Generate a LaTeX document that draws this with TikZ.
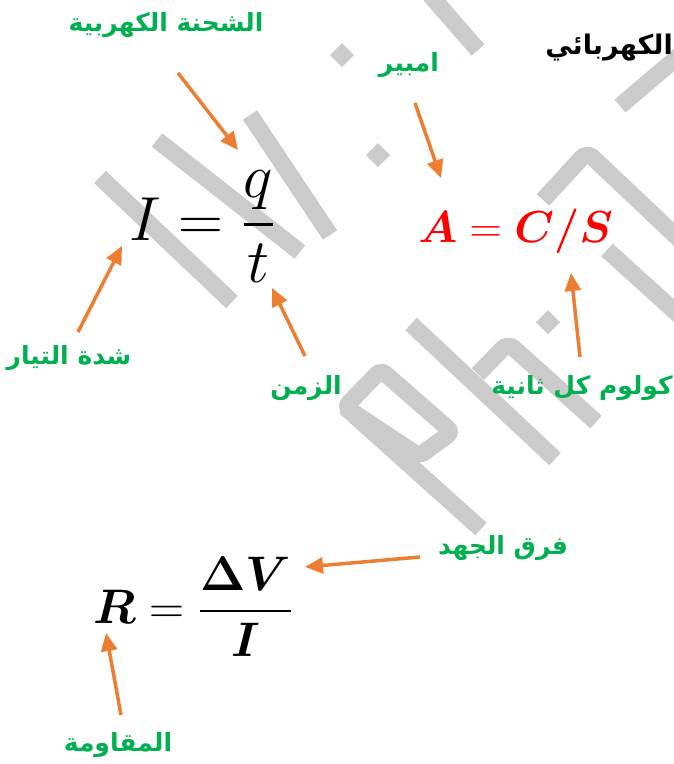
\documentclass[tikz,border=0pt]{standalone}
\usepackage{fontspec}
\usepackage{amsmath,bm}
\usetikzlibrary{arrows.meta}
\TeXXeTstate=1
\newfontfamily\arabicfont[Script=Arabic]{DejaVu Sans}
\definecolor{lblgreen}{HTML}{00B050}
\definecolor{arrorange}{HTML}{ED7D31}
\definecolor{wmgray}{HTML}{CBCBCB}
\tikzset{
  arlabel/.style={font=\arabicfont\bfseries\fontsize{25}{30}\selectfont, text=lblgreen, inner sep=0pt},
  pointer/.style={draw=arrorange, line width=3.5pt, -{Triangle[length=18pt,width=16pt]}},
  wmark/.style={draw=wmgray, line width=17pt},
  formula/.style={inner sep=0pt, anchor=base west}
}

\begin{document}
\begin{tikzpicture}[x=1pt, y=-1pt]
  \useasboundingbox (0,0) rectangle (674,764);
  % watermark
  \draw[wmark] (100,177) -- (232,302);
  \draw[wmark] (157,140) -- (300,252);
  \draw[wmark] (250,115) -- (330,235);
  \draw[wmark, rounded corners=6pt] (345,407) -- (381,370) -- (452,432) -- (419,456) -- cycle;
  \draw[wmark] (345,407) -- (481,529);
  \draw[wmark] (411,324) -- (555,459);
  \draw[wmark, rounded corners=8pt] (478,374) -- (508,343) -- (596,422);
  \fill[wmgray] (548,310) -- (560,322) -- (548,334) -- (536,322) -- cycle;
  \fill[wmgray] (342,43) -- (354,55) -- (342,67) -- (330,55) -- cycle;
  \fill[wmgray] (378,143) -- (390,155) -- (378,167) -- (366,155) -- cycle;
  \draw[wmark] (430,-5) -- (478,50);
  \draw[wmark, rounded corners=8pt] (543,200) -- (587,152) -- (680,240);
  \draw[wmark] (620,106) -- (680,55);
  \draw[wmark] (607,250) -- (680,316);

  % formulas
  \node[formula, scale=2.5] (cur) at (129,240) {\Huge$I=\dfrac{q}{t}$};
  \node[formula, scale=1.8, text=red] (unit) at (418,242) {\Huge$\bm{A}=\bm{C}\bm{/}\bm{S}$};
  \node[formula, scale=1.95] (res) at (93,623) {\Huge$\bm{R}=\dfrac{\bm{\Delta V}}{\bm{I}}$};

  % labels
  \node[font=\arabicfont\bfseries\fontsize{27}{32}\selectfont, anchor=east, inner sep=0pt] (title) at (673,48) {\beginR الكهربائي\endR};
  \node[arlabel] (charge) at (166,25) {\beginR الشحنة الكهربية\endR};
  \node[arlabel] (ampere) at (409,65) {\beginR امبير\endR};
  \node[arlabel] (intensity) at (69,358) {\beginR شدة التيار\endR};
  \node[arlabel] (time) at (306,388) {\beginR الزمن\endR};
  \node[arlabel] (cps) at (582,388) {\beginR كولوم كل ثانية\endR};
  \node[arlabel] (volt) at (503,548) {\beginR فرق الجهد\endR};
  \node[arlabel] (resist) at (118,745) {\beginR المقاومة\endR};

  % arrow ends
  \coordinate (chargeS) at (178,73);  \coordinate (qtip) at (238,150);
  \coordinate (ampS) at (415,103);    \coordinate (Atip) at (441,178);
  \coordinate (intS) at (78,332);     \coordinate (Itip) at (122,246);
  \coordinate (timeS) at (305,356);   \coordinate (ttip) at (272,288);
  \coordinate (cpsS) at (580,357);    \coordinate (Stip) at (571,273);
  \coordinate (voltS) at (420,557);   \coordinate (Vtip) at (305,567);
  \coordinate (resS) at (121,715);    \coordinate (Rtip) at (106,633);

  \draw[pointer] (chargeS) -- (qtip);
  \draw[pointer] (ampS) -- (Atip);
  \draw[pointer] (intS) -- (Itip);
  \draw[pointer] (timeS) -- (ttip);
  \draw[pointer] (cpsS) -- (Stip);
  \draw[pointer] (voltS) -- (Vtip);
  \draw[pointer] (resS) -- (Rtip);
\end{tikzpicture}
\end{document}
